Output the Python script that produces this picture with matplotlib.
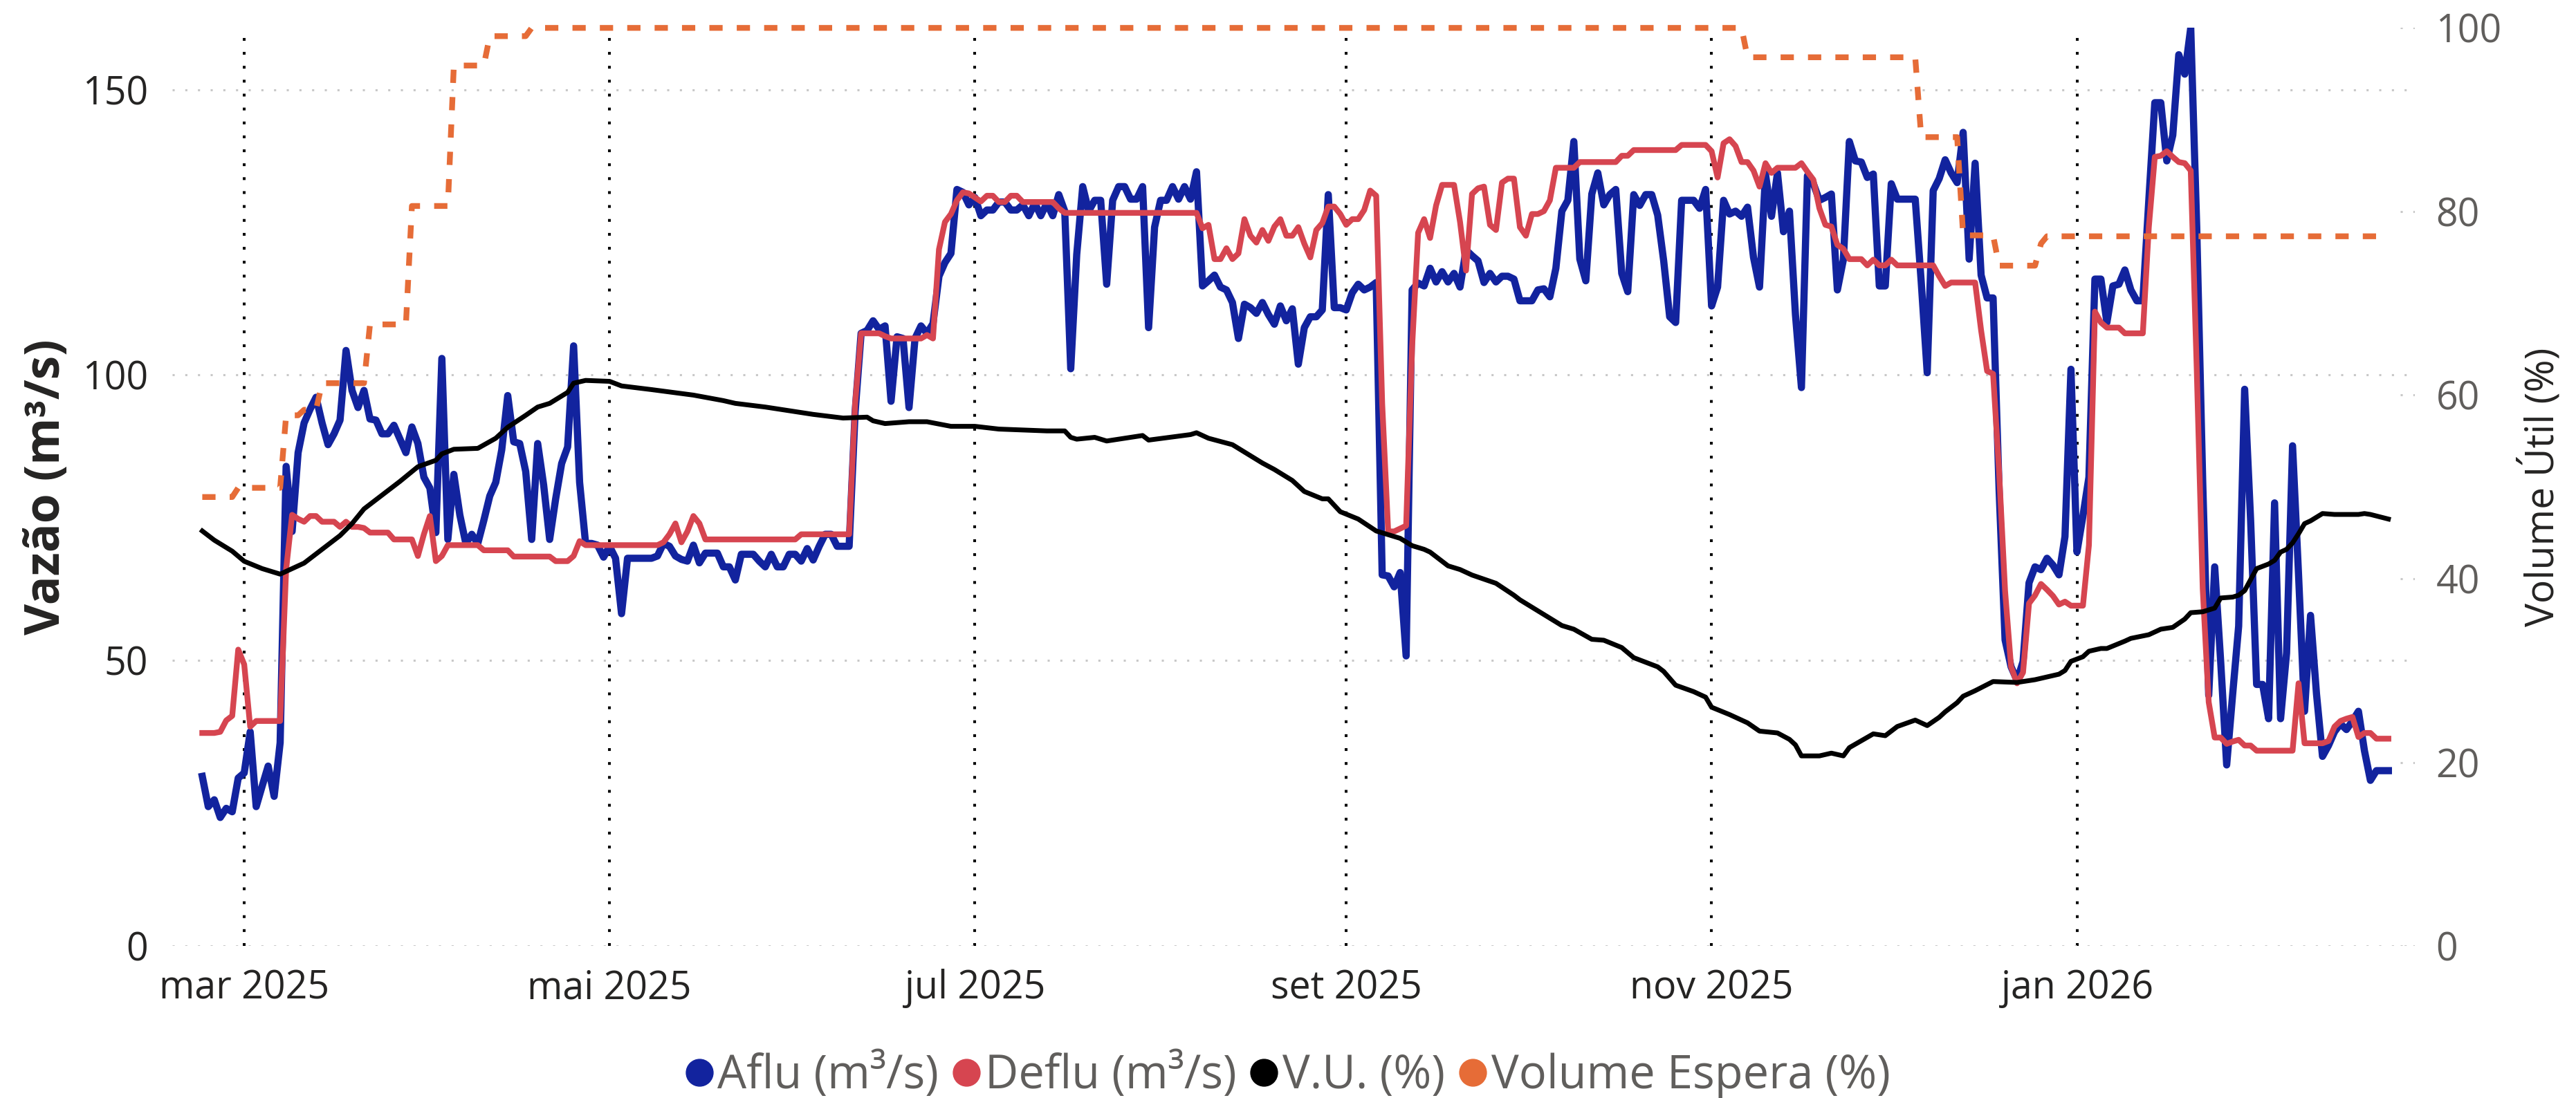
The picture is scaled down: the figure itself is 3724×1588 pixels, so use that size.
import matplotlib
matplotlib.use("Agg")
import matplotlib.pyplot as plt
import pandas as pd
from matplotlib.lines import Line2D

plt.rcParams["font.family"] = ["Open Sans", "DejaVu Sans"]

START = "2025-02-22"

# vazao afluente diaria (m3/s)
aflu = [
    29.7, 24.4, 25.6, 22.5, 24.1, 23.5, 29.4, 30.3, 37.5, 24.4,
    28.0, 31.5, 26.2, 35.6, 84.0, 72.6, 86.4, 91.6, 94.0, 96.1,
    91.6, 87.8, 89.7, 92.1, 104.3, 97.3, 94.3, 97.3, 92.3, 92.1,
    89.7, 89.7, 91.2, 88.8, 86.4, 90.9, 88.0, 82.1, 80.2, 72.4,
    102.9, 71.2, 82.6, 75.5, 70.5, 72.1, 70.5, 74.5, 78.8, 81.2,
    86.9, 96.4, 88.3, 88.0, 83.1, 71.2, 88.0, 80.7, 71.2, 78.3,
    84.5, 87.4, 105.1, 81.2, 70.5, 70.5, 70.2, 68.1, 70.0, 67.9,
    58.2, 67.9, 67.9, 67.9, 67.9, 67.9, 68.3, 70.5, 70.0, 68.3,
    67.7, 67.4, 70.2, 67.1, 68.8, 68.8, 68.8, 66.4, 66.4, 64.1,
    68.6, 68.6, 68.6, 67.4, 66.4, 68.6, 66.4, 66.4, 68.6, 68.6,
    67.4, 69.6, 67.6, 70.0, 72.1, 72.1, 70.0, 70.0, 70.0, 93.5,
    107.3, 107.8, 109.5, 108.0, 108.6, 95.4, 106.7, 106.4, 94.3, 106.4,
    108.6, 107.3, 109.0, 117.3, 119.7, 121.3, 132.5, 132.0, 129.8, 131.1,
    127.9, 128.9, 128.9, 130.3, 130.3, 128.9, 128.9, 129.8, 127.9, 130.1,
    127.9, 130.1, 127.9, 131.6, 128.7, 101.1, 121.1, 133.0, 128.7, 130.6,
    130.6, 115.9, 130.6, 133.0, 133.0, 130.8, 130.8, 133.0, 108.3, 125.9,
    130.6, 130.6, 133.0, 130.8, 133.0, 130.8, 135.6, 115.6, 116.5, 117.5,
    115.4, 114.9, 112.7, 106.4, 112.4, 111.8, 110.8, 112.7, 110.6, 108.9,
    112.1, 109.5, 111.6, 101.9, 108.3, 110.2, 110.2, 111.4, 131.6, 111.8,
    111.8, 111.4, 114.4, 115.9, 114.9, 115.4, 116.2, 65.0, 64.8, 62.9,
    65.4, 50.8, 114.9, 116.1, 115.6, 118.7, 116.3, 118.1, 116.3, 117.8,
    115.4, 121.9, 120.9, 120.0, 116.2, 117.8, 116.3, 117.3, 117.3, 116.8,
    113.0, 113.0, 113.0, 114.9, 115.1, 113.7, 118.7, 128.7, 130.6, 140.9,
    120.3, 116.5, 131.7, 135.4, 129.8, 131.6, 132.5, 117.8, 114.6, 131.6,
    129.7, 131.6, 131.6, 128.0, 120.0, 110.2, 109.2, 130.6, 130.6, 130.6,
    129.2, 132.5, 112.1, 115.4, 130.6, 128.2, 128.7, 127.8, 129.4, 120.6,
    115.4, 135.2, 127.8, 135.4, 125.1, 128.7, 110.6, 97.8, 134.9, 133.5,
    130.6, 131.1, 131.7, 114.9, 120.2, 140.9, 137.5, 137.3, 134.6, 135.2,
    115.6, 115.6, 133.5, 130.8, 130.8, 130.8, 130.8, 116.3, 100.4, 132.3,
    134.4, 137.7, 135.4, 133.7, 142.5, 120.3, 137.1, 117.5, 113.5, 113.5,
    80.0, 53.6, 48.9, 46.5, 49.8, 63.6, 66.4, 65.9, 67.9, 66.7,
    65.0, 71.7, 101.0, 69.0, 75.3, 82.1, 116.8, 116.8, 109.2, 115.6,
    115.9, 118.4, 114.9, 113.0, 113.0, 130.6, 147.7, 147.7, 137.5, 142.0,
    156.1, 152.7, 160.8, 125.9, 81.2, 43.9, 66.4, 49.8, 31.7, 44.1,
    56.0, 97.5, 74.5, 45.8, 45.8, 39.8, 77.6, 39.8, 51.3, 87.6,
    65.0, 41.1, 57.9, 44.1, 33.2, 35.1, 37.5, 38.9, 37.9, 39.4,
    41.1, 34.2, 29.0, 30.7, 30.7, 30.7,
]

# vazao defluente diaria (m3/s)
deflu = [
    37.3, 37.3, 37.3, 37.5, 39.5, 40.3, 51.9, 49.3, 38.4, 39.4,
    39.4, 39.4, 39.4, 39.4, 66.0, 75.5, 74.8, 74.3, 75.3, 75.3,
    74.3, 74.3, 74.3, 73.4, 74.3, 73.4, 73.4, 73.2, 72.4, 72.4,
    72.4, 72.4, 71.2, 71.2, 71.2, 71.2, 68.3, 72.1, 75.3, 67.4,
    68.3, 70.2, 70.2, 70.2, 70.2, 70.2, 70.2, 69.3, 69.3, 69.3,
    69.3, 69.3, 68.2, 68.2, 68.2, 68.2, 68.2, 68.2, 68.2, 67.4,
    67.4, 67.4, 68.3, 70.9, 70.2, 70.2, 70.2, 70.2, 70.2, 70.2,
    70.2, 70.2, 70.2, 70.2, 70.2, 70.2, 70.2, 70.7, 72.1, 74.0,
    70.7, 72.6, 75.3, 74.0, 71.2, 71.2, 71.2, 71.2, 71.2, 71.2,
    71.2, 71.2, 71.2, 71.2, 71.2, 71.2, 71.2, 71.2, 71.2, 71.2,
    72.1, 72.1, 72.1, 72.1, 72.1, 72.1, 72.1, 72.1, 72.1, 95.0,
    107.3, 107.3, 107.3, 107.3, 106.8, 106.4, 106.4, 106.4, 106.4, 106.4,
    106.4, 107.0, 106.4, 122.0, 126.8, 128.2, 130.6, 132.0, 131.8, 131.1,
    130.4, 131.4, 131.4, 130.3, 130.3, 131.4, 131.4, 130.3, 130.3, 130.3,
    130.3, 130.3, 130.3, 129.2, 128.4, 128.4, 128.4, 128.4, 128.4, 128.4,
    128.4, 128.4, 128.4, 128.4, 128.4, 128.4, 128.4, 128.4, 128.4, 128.4,
    128.4, 128.4, 128.4, 128.4, 128.4, 128.4, 128.4, 125.7, 126.3, 120.3,
    120.3, 122.2, 120.3, 121.3, 127.3, 124.4, 123.2, 125.4, 123.5, 126.0,
    127.3, 124.4, 124.4, 125.9, 123.0, 120.6, 125.4, 126.6, 129.5, 129.5,
    128.2, 126.3, 127.3, 127.3, 128.9, 132.3, 131.4, 95.0, 72.6, 72.6,
    73.1, 73.6, 105.0, 124.9, 127.3, 124.0, 129.7, 133.3, 133.3, 133.3,
    126.8, 118.3, 131.7, 132.7, 133.0, 126.3, 125.4, 133.7, 134.4, 134.4,
    125.9, 124.4, 128.2, 128.2, 128.7, 130.6, 136.3, 136.3, 136.3, 136.3,
    137.3, 137.3, 137.3, 137.3, 137.3, 137.3, 137.3, 138.4, 138.4, 139.4,
    139.4, 139.4, 139.4, 139.4, 139.4, 139.4, 139.4, 140.3, 140.3, 140.3,
    140.3, 140.3, 139.2, 134.6, 140.6, 141.3, 140.1, 137.3, 137.3, 135.8,
    133.0, 137.1, 135.4, 136.3, 136.3, 136.3, 136.3, 137.1, 135.6, 134.2,
    129.2, 126.3, 126.0, 122.8, 122.1, 120.3, 120.3, 120.3, 119.2, 120.2,
    119.2, 119.2, 120.2, 119.2, 119.2, 119.2, 119.2, 119.2, 119.2, 119.2,
    117.3, 115.6, 116.2, 116.2, 116.2, 116.2, 116.2, 107.8, 100.7, 100.2,
    83.1, 62.2, 48.9, 46.0, 47.9, 60.0, 61.4, 63.4, 62.4, 61.3,
    59.8, 60.3, 59.6, 59.6, 59.6, 70.2, 111.1, 109.2, 108.3, 108.3,
    108.3, 107.3, 107.3, 107.3, 107.3, 125.9, 138.2, 138.4, 139.2, 138.2,
    137.3, 137.1, 135.8, 101.1, 62.6, 42.7, 36.5, 36.5, 35.4, 35.8,
    36.1, 35.1, 35.1, 34.2, 34.2, 34.2, 34.2, 34.2, 34.2, 34.2,
    46.0, 35.5, 35.5, 35.5, 35.5, 35.9, 38.4, 39.4, 39.8, 40.1,
    36.6, 37.3, 37.3, 36.3, 36.3, 36.3,
]

# volume util (%) - dias contados a partir de START
vu_day = [0, 2, 5, 7, 10, 13, 17, 20, 23, 25, 27, 30, 33, 36, 39, 40, 42, 46, 49,
          51, 54, 56, 58, 61, 62, 64, 68, 70, 75, 82, 87, 89, 94, 97, 102, 107,
          111, 112, 114, 118, 121, 125, 129, 133, 137, 141, 144, 145, 146, 149,
          151, 157, 158, 165, 166, 168, 172, 174, 177, 179, 182, 183, 184, 187,
          188, 190, 193, 196, 198, 200, 202, 204, 205, 208, 210, 212, 216, 219,
          220, 224, 227, 229, 232, 234, 237, 239, 243, 244, 246, 249, 251, 252,
          255, 258, 260, 263, 265, 266, 267, 270, 272, 274, 275, 279, 281, 283,
          286, 288, 290, 291, 293, 294, 296, 299, 303, 306, 310, 311, 312, 314,
          315, 317, 318, 321, 322, 325, 327, 329, 331, 332, 334, 336, 337, 339,
          340, 341, 342, 343, 345, 346, 347, 348, 349, 350, 351, 352, 354, 356,
          360, 361, 362, 365]
vu_pct = [45.2, 44.2, 43.0, 41.9, 41.1, 40.5, 41.7, 43.2, 44.7, 46.0, 47.6, 49.1,
          50.6, 52.2, 52.9, 53.6, 54.1, 54.2, 55.3, 56.5, 57.8, 58.7, 59.1, 60.3,
          61.3, 61.6, 61.5, 61.0, 60.6, 60.0, 59.4, 59.1, 58.7, 58.4, 57.9, 57.5,
          57.6, 57.2, 56.9, 57.1, 57.1, 56.6, 56.6, 56.3, 56.2, 56.1, 56.1, 55.4,
          55.2, 55.4, 55.0, 55.6, 55.1, 55.7, 55.9, 55.3, 54.6, 53.8, 52.6, 51.9,
          50.7, 50.1, 49.5, 48.7, 48.7, 47.3, 46.5, 45.2, 44.8, 44.4, 43.6, 43.2,
          42.9, 41.4, 41.0, 40.4, 39.5, 38.2, 37.7, 36.1, 34.9, 34.5, 33.4, 33.3,
          32.5, 31.4, 30.4, 29.9, 28.4, 27.7, 27.1, 26.0, 25.2, 24.3, 23.4, 23.2,
          22.5, 21.9, 20.7, 20.7, 21.0, 20.7, 21.6, 23.1, 22.9, 23.9, 24.6, 24.0,
          24.9, 25.5, 26.5, 27.2, 27.8, 28.8, 28.7, 29.0, 29.6, 30.0, 31.0, 31.5,
          32.1, 32.4, 32.4, 33.2, 33.5, 33.9, 34.5, 34.7, 35.6, 36.3, 36.4, 36.8,
          37.9, 38.0, 38.2, 38.7, 39.9, 41.1, 41.6, 42.0, 42.9, 43.2, 43.9, 44.9,
          46.0, 46.3, 47.1, 47.0, 47.0, 47.1, 47.0, 46.5]

# volume de espera (%)
esp_day = [0, 5, 6, 13, 14, 16, 17, 19, 20, 27, 28, 34, 35, 41, 42, 47, 48, 54,
           55, 257, 258, 286, 287, 293, 294, 299, 300, 306, 307, 308, 365]
esp_pct = [48.9, 48.9, 49.9, 49.9, 57.8, 57.8, 58.4, 58.4, 61.3, 61.3, 67.7, 67.7,
           80.6, 80.6, 95.9, 95.9, 99.1, 99.1, 100, 100, 96.8, 96.8, 88.1, 88.1,
           77.4, 77.4, 74.1, 74.1, 76.5, 77.3, 77.3]

tick_dates = ["2025-03-01", "2025-05-01", "2025-07-01", "2025-09-01", "2025-11-01", "2026-01-01"]
tick_labels = ["mar 2025", "mai 2025", "jul 2025", "set 2025", "nov 2025", "jan 2026"]
left_ticks = [0, 50, 100, 150]
right_ticks = [0, 20, 40, 60, 80, 100]

names = ["Aflu (m³/s)", "Deflu (m³/s)", "V.U. (%)", "Volume Espera (%)"]
colors = ["#12239E", "#D64550", "#000000", "#E66C37"]

start = pd.Timestamp(START)
days = pd.date_range(START, periods=len(aflu), freq="D")
vu_dates = start + pd.to_timedelta(vu_day, unit="D")
esp_dates = start + pd.to_timedelta(esp_day, unit="D")

fig = plt.figure(figsize=(37.24, 15.88), dpi=100)
ax = fig.add_axes([0.0669, 0.1385, 0.8705, 0.8361])
ax2 = ax.twinx()

ax.plot(days, aflu, color=colors[0], lw=7.5, solid_joinstyle="round", zorder=2)
ax.plot(days, deflu, color=colors[1], lw=6.0, solid_joinstyle="round", zorder=3)
ax2.plot(vu_dates, vu_pct, color=colors[2], lw=5.0, solid_joinstyle="round", zorder=3)
ax2.plot(esp_dates, esp_pct, color=colors[3], lw=6.0, ls=(0, (2.3, 2.45)), zorder=4, clip_on=False)

ax.set_xlim(start - pd.Timedelta(days=5), days[-1] + pd.Timedelta(days=4.4))
ax.set_ylim(0, max(aflu))
ax2.set_ylim(0, 100)

ax.set_xticks(pd.to_datetime(tick_dates))
ax.set_xticklabels(tick_labels)
ax.set_yticks(left_ticks)
ax2.set_yticks(right_ticks)

ax.grid(axis="y", color="#C8C8C8", ls=(0, (1, 5)), lw=2.2)
ax.grid(axis="x", color="black", ls=(0, (1, 4)), lw=2.9)
ax.set_axisbelow(True)
for y in right_ticks:
    ax2.axhline(y, xmin=0.9935, xmax=1.0, color="#C8C8C8", ls=(0, (1, 5)), lw=2.2)

for a in (ax, ax2):
    for s in a.spines.values():
        s.set_visible(False)
ax.tick_params(axis="both", length=0, labelsize=40, colors="#252423")
ax.tick_params(axis="x", pad=24)
ax.tick_params(axis="y", pad=25)
ax2.tick_params(axis="y", length=0, labelsize=40, colors="#605E5C", pad=22)

ax.set_ylabel("Vazão (m³/s)", fontsize=50, fontweight="bold", color="#252423")
ax.yaxis.set_label_coords(-0.045, 0.5)
ax2.set_ylabel("Volume Útil (%)", fontsize=41, color="#252423")
ax2.yaxis.set_label_coords(1.047, 0.5)

handles = [Line2D([], [], ls="none", marker="o", markersize=28, color=c) for c in colors]
leg = fig.legend(handles, names, loc="center", bbox_to_anchor=(0.499, 0.02), ncol=4,
                 frameon=False, fontsize=48, handletextpad=0.0, columnspacing=0.2,
                 handlelength=0.8, borderpad=0)
for t in leg.get_texts():
    t.set_color("#605E5C")

fig.savefig("out.png", dpi=100)
